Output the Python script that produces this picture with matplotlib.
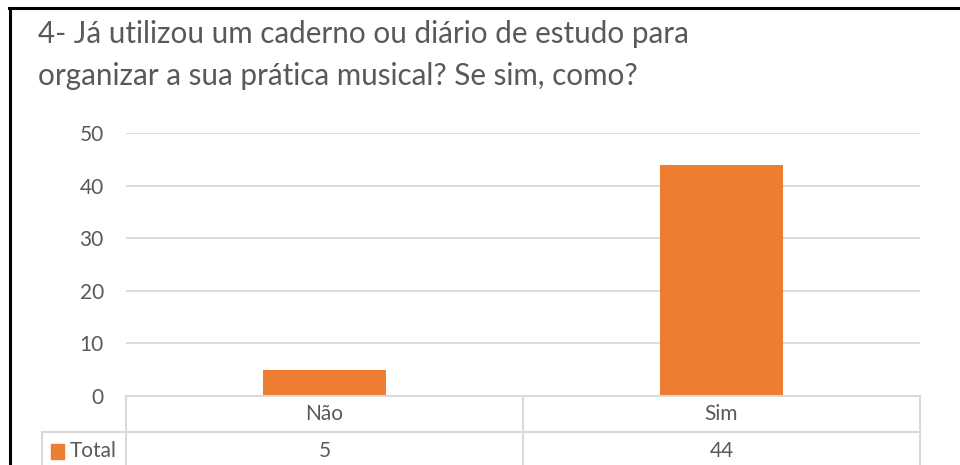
import matplotlib
matplotlib.use("Agg")
import matplotlib.pyplot as plt
from matplotlib.lines import Line2D
from matplotlib.patches import Rectangle

plt.rcParams['font.family'] = ['Lato', 'DejaVu Sans']

# data
categories = ["Não", "Sim"]
values = [5, 44]
series_name = "Total"
title = "4- Já utilizou um caderno ou diário de estudo para\norganizar a sua prática musical? Se sim, como?"

BAR = "#ED7D31"
TXT = "#595959"
GRID = "#D9D9D9"

W, H = 960, 465


def fx(x):
    return x / W


def fy(y):
    return 1 - y / H


fig = plt.figure(figsize=(9.6, 4.65), dpi=100)

# plot area
x0, x1, ytop, ybot = 126, 920, 133, 396
ax = fig.add_axes([fx(x0), fy(ybot), fx(x1 - x0), (ybot - ytop) / H])
xs = range(len(categories))
ax.bar(xs, values, width=0.31, color=BAR, zorder=3)
ax.set_xlim(-0.5, len(categories) - 0.5)
ax.set_ylim(0, 50)
ax.set_yticks([0, 10, 20, 30, 40, 50])
ax.tick_params(axis="y", length=0, pad=16, labelsize=15, labelcolor=TXT)
ax.set_xticks([])
ax.grid(axis="y", color=GRID, linewidth=1.3, zorder=0)
for s in ax.spines.values():
    s.set_visible(False)

# data table
lc = dict(color=GRID, linewidth=1.5)
fig.add_artist(Line2D([fx(x0), fx(x1)], [fy(396), fy(396)], **lc))
fig.add_artist(Line2D([fx(42), fx(x1)], [fy(432), fy(432)], **lc))
for xv in (x0, (x0 + x1) / 2, x1):
    fig.add_artist(Line2D([fx(xv), fx(xv)], [fy(396), fy(470)], **lc))
fig.add_artist(Line2D([fx(42), fx(42)], [fy(432), fy(470)], **lc))

for i, (c, v) in enumerate(zip(categories, values)):
    xc = x0 + (i + 0.5) * (x1 - x0) / len(categories)
    fig.text(fx(xc), fy(414), c, ha="center", va="center", fontsize=15, color=TXT)
    fig.text(fx(xc), fy(451), str(v), ha="center", va="center", fontsize=15, color=TXT)

fig.add_artist(Rectangle((fx(51), fy(459)), fx(13), 15 / H, color=BAR,
                         transform=fig.transFigure))
fig.text(fx(70), fy(451), series_name, ha="left", va="center", fontsize=15, color=TXT)

# title
fig.text(fx(38), fy(55), title, ha="left", va="center", fontsize=21.3,
         color=TXT, linespacing=1.62)

# chart border
bc = dict(color="black", linewidth=2.2)
fig.add_artist(Line2D([fx(9), fx(960)], [fy(8.5), fy(8.5)], **bc))
fig.add_artist(Line2D([fx(9.5), fx(9.5)], [fy(8), fy(465)], **bc))

fig.savefig("out.png", dpi=100)
